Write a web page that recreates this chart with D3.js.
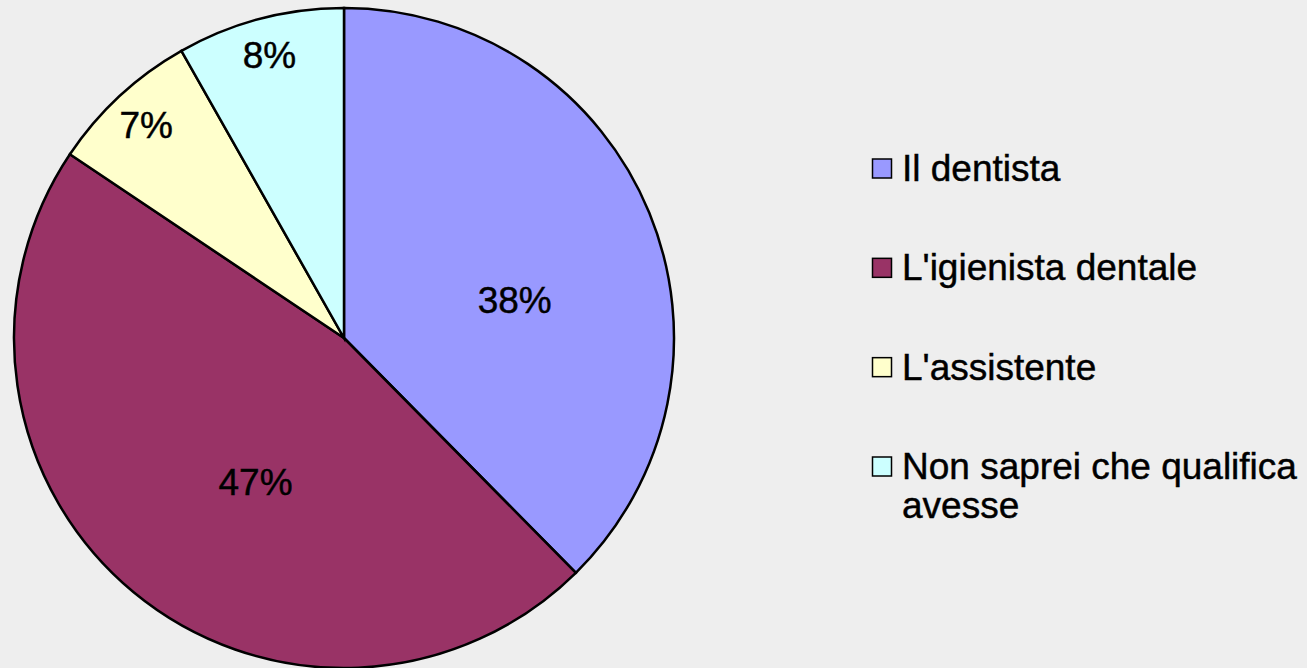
<!DOCTYPE html>
<html lang="it">
<head>
<meta charset="UTF-8">
<title>Pie chart</title>
<style>
html, body { margin: 0; padding: 0; background: #eeeeee; }
svg { display: block; }
.slice { stroke: #000; stroke-width: 2.5px; }
.label, .legend text { font: 37px "Liberation Sans", Arial, sans-serif; fill: #000; stroke: #000; stroke-width: 0.45px; }
.legend rect { stroke: #000; stroke-width: 1.5px; }
</style>
</head>
<body>
<script src="https://cdnjs.cloudflare.com/ajax/libs/d3/7.8.5/d3.min.js"></script>
<script>
// data (percent shares, clockwise from 12 o'clock)
var categories = ["Il dentista", "L'igienista dentale", "L'assistente", "Non saprei che qualifica avesse"];
var values = [37.6, 46.8, 7.4, 8.2];
var colors = ["#9999ff", "#993366", "#ffffcc", "#ccffff"];
// legend lines (long label wraps)
var legendLines = [["Il dentista"], ["L'igienista dentale"], ["L'assistente"], ["Non saprei che qualifica", "avesse"]];

var width = 1307, height = 668;
var cx = 344, cy = 338, radius = 330;

var svg = d3.select("body").append("svg")
  .attr("width", width)
  .attr("height", height);

var data = categories.map(function (c, i) { return { name: c, value: values[i], color: colors[i] }; });

var pie = d3.pie().sort(null).value(function (d) { return d.value; });
var arcs = pie(data);

var arc = d3.arc().innerRadius(0).outerRadius(radius);

var g = svg.append("g").attr("transform", "translate(" + cx + "," + cy + ")");

g.selectAll("path.slice")
  .data(arcs)
  .enter().append("path")
  .attr("class", "slice")
  .attr("d", arc)
  .attr("fill", function (d) { return d.data.color; });

var total = d3.sum(values);

// big slices get their label near the middle, small ones near the rim
function labelPos(d) {
  var share = d.value / total;
  var mid = (d.startAngle + d.endAngle) / 2;
  var r = share < 0.1 ? radius * (0.83 + share * 0.7) : radius * 0.53;
  if (share >= 0.1) {
    // pull the label a bit toward the wider side, like the original
    mid += (share < 0.42 ? 0.17 : -0.14);
    r += (share < 0.42 ? 0 : -6);
  }
  return [Math.sin(mid) * r, -Math.cos(mid) * r];
}

g.selectAll("text.label")
  .data(arcs)
  .enter().append("text")
  .attr("class", "label")
  .attr("text-anchor", "middle")
  .attr("dy", "0.36em")
  .attr("transform", function (d) { return "translate(" + labelPos(d) + ")"; })
  .text(function (d) { return Math.round(d.value / total * 100) + "%"; });

// legend
var legendY = d3.scalePoint().domain(categories).range([181, 479]);

var legend = svg.append("g").attr("class", "legend");
var item = legend.selectAll("g")
  .data(data)
  .enter().append("g")
  .attr("transform", function (d) { return "translate(0," + legendY(d.name) + ")"; });

item.append("rect")
  .attr("x", 872.5)
  .attr("y", -22)
  .attr("width", 19)
  .attr("height", 19)
  .attr("fill", function (d) { return d.color; });

item.append("text")
  .attr("x", 902)
  .selectAll("tspan")
  .data(function (d, i) { return legendLines[i]; })
  .enter().append("tspan")
  .attr("x", 902)
  .attr("y", function (t, j) { return j * 39; })
  .text(function (t) { return t; });
</script>
</body>
</html>
